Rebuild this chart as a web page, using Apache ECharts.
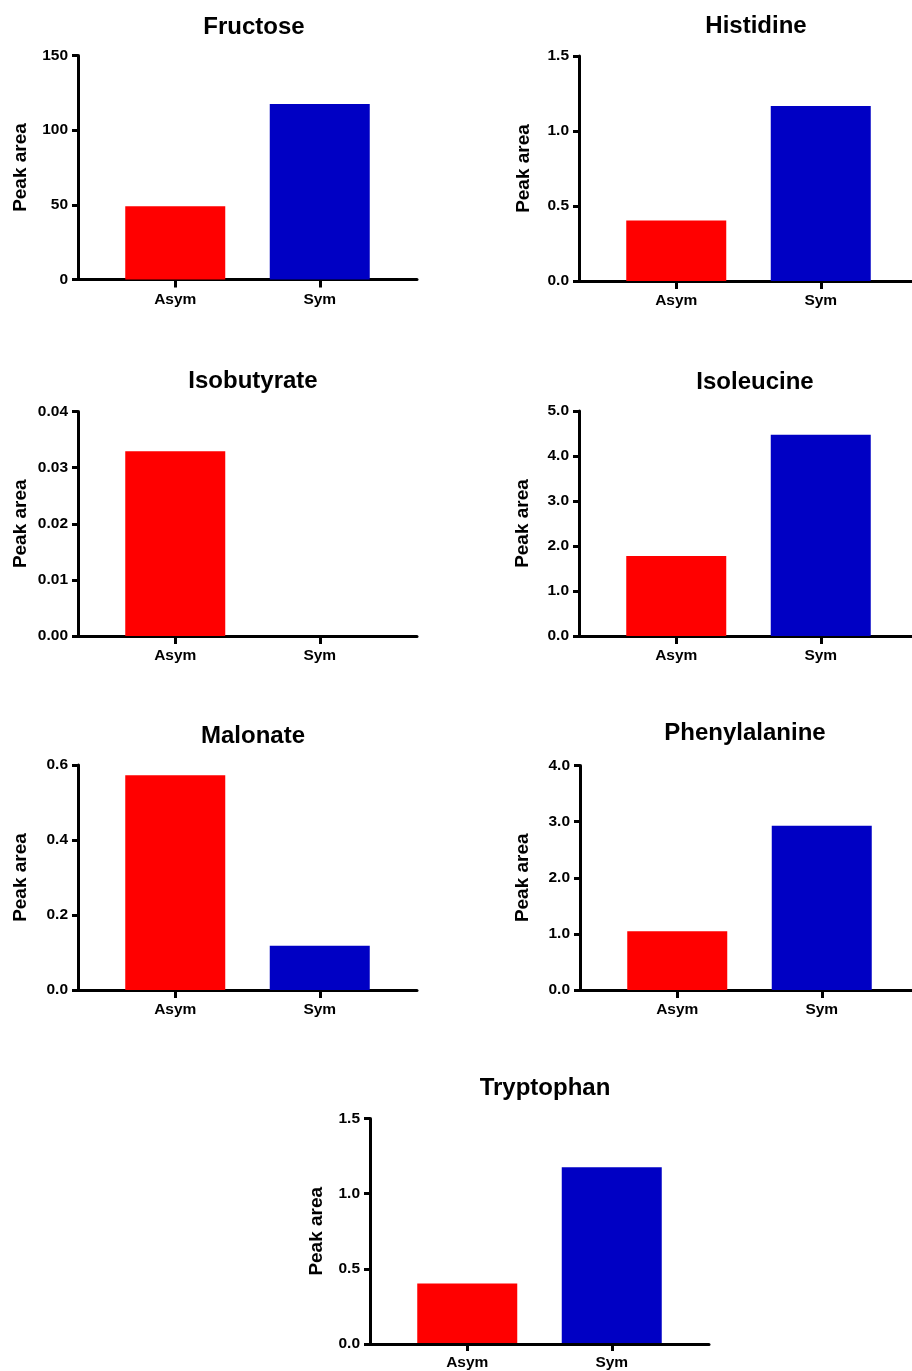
<!DOCTYPE html>
<html>
<head>
<meta charset="utf-8">
<title>Peak area</title>
<script src="https://cdn.jsdelivr.net/npm/echarts@6.0.0/dist/echarts.min.js"></script>
<style>
html, body { margin: 0; padding: 0; background: #fff; }
#main { width: 912px; height: 1371px; }
</style>
</head>
<body>
<div id="main"></div>
<script>
var groups = ['Asym', 'Sym'];
var metabolites = ['Fructose', 'Histidine', 'Isobutyrate', 'Isoleucine', 'Malonate', 'Phenylalanine', 'Tryptophan'];
var asymValues = [49, 0.403, 0.0329, 1.78, 0.573, 1.047, 0.397];
var symValues = [117.6, 1.166, 0, 4.47, 0.118, 2.925, 1.174];
var yMax = [150, 1.5, 0.04, 5, 0.6, 4, 1.5];
var yStep = [50, 0.5, 0.01, 1, 0.2, 1, 0.5];
var yDecimals = [0, 1, 2, 1, 1, 1, 1];

// where each panel sits on the page (px)
var panelLeft = [78, 579, 78, 579, 78, 580, 370];
var panelTop = [55.5, 56, 411.5, 411, 765, 765.5, 1118.5];
var panelBottom = [279.5, 281, 636, 636, 990, 990, 1344];
var titleX = [254, 756, 253, 755, 253, 745, 545];
var titleY = [27.5, 26, 381.3, 382, 736.7, 733.3, 1088];
var nameGap = [48, 46, 48, 47, 48, 48, 44];

var font = 'Liberation Sans, Arial, Helvetica, sans-serif';
var black = '#000';

var myChart = echarts.init(document.getElementById('main'));

var option = {
    animation: false,
    backgroundColor: '#fff',
    title: [],
    grid: [],
    xAxis: [],
    yAxis: [],
    series: []
};

for (var i = 0; i < metabolites.length; i++) {
    var h = panelBottom[i] - panelTop[i];
    option.title.push({
        text: metabolites[i],
        left: titleX[i],
        top: titleY[i] - 12,
        textAlign: 'center',
        padding: 0,
        textStyle: { fontSize: 24, fontWeight: 'bold', color: black, fontFamily: font }
    });
    // frame grid: y axis and the long x axis line
    option.grid.push({ left: panelLeft[i], top: panelTop[i], width: 339, height: h });
    // bar grid: narrower, so the two bars sit where they do in the figure
    option.grid.push({ left: panelLeft[i] + 25, top: panelTop[i], width: 289, height: h });

    option.xAxis.push({
        gridIndex: 2 * i,
        type: 'category',
        data: groups,
        axisLine: { lineStyle: { color: black, width: 3 } },
        axisTick: { show: false },
        axisLabel: { show: false }
    });
    option.xAxis.push({
        gridIndex: 2 * i + 1,
        type: 'category',
        data: groups,
        axisLine: { show: false },
        axisTick: { show: true, alignWithLabel: true, length: 8, lineStyle: { color: black, width: 3 } },
        axisLabel: { margin: 12, fontSize: 15.5, fontWeight: 'bold', color: black, fontFamily: font }
    });

    option.yAxis.push({
        gridIndex: 2 * i,
        type: 'value',
        min: 0,
        max: yMax[i],
        interval: yStep[i],
        name: 'Peak area',
        nameLocation: 'middle',
        nameGap: nameGap[i],
        nameTextStyle: { fontSize: 19, fontWeight: 'bold', color: black, fontFamily: font },
        axisLine: { show: true, lineStyle: { color: black, width: 3 } },
        axisTick: { show: true, length: 6, lineStyle: { color: black, width: 3 } },
        axisLabel: {
            margin: 10, fontSize: 15.5, fontWeight: 'bold', color: black, fontFamily: font,
            formatter: (function (d) {
                return function (v) { return v.toFixed(d); };
            })(yDecimals[i])
        },
        splitLine: { show: false }
    });
    option.yAxis.push({
        gridIndex: 2 * i + 1,
        type: 'value',
        min: 0,
        max: yMax[i],
        show: false
    });

    option.series.push({
        name: metabolites[i],
        type: 'bar',
        xAxisIndex: 2 * i + 1,
        yAxisIndex: 2 * i + 1,
        barWidth: 100,
        silent: true,
        data: [
            { value: asymValues[i], itemStyle: { color: '#ff0000' } },
            { value: symValues[i], itemStyle: { color: '#0000c4' } }
        ]
    });
}

myChart.setOption(option);
window.addEventListener('resize', function () {
    myChart.resize();
});
</script>
</body>
</html>
